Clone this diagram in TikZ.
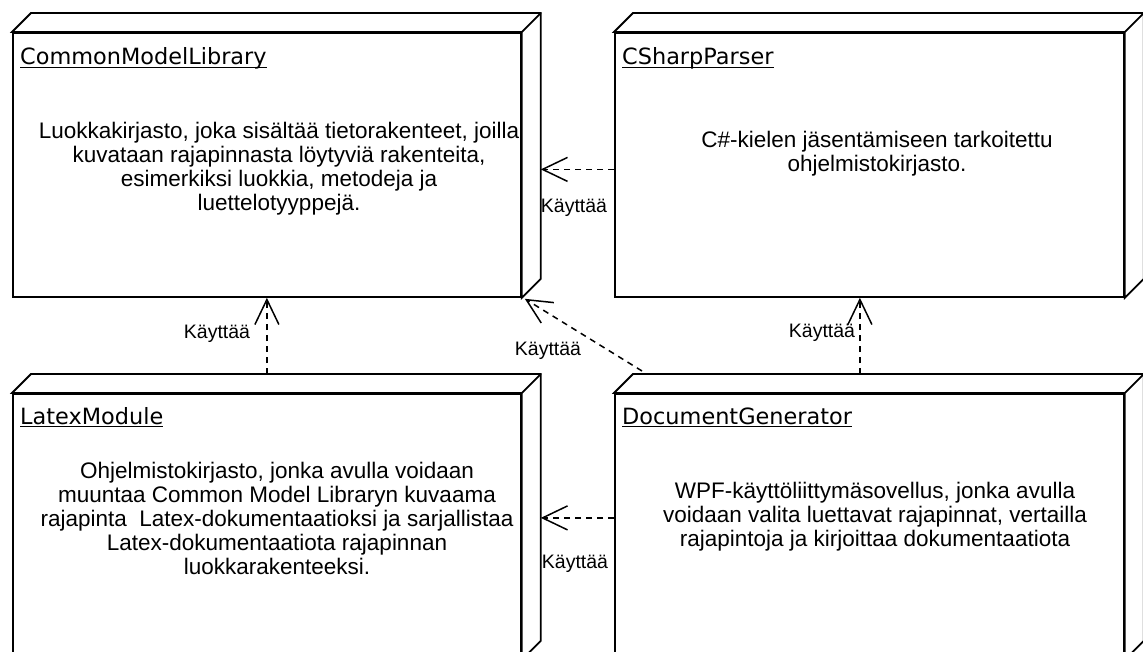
\documentclass[tikz,border=0pt]{standalone}
\usepackage{fontspec}
\setmainfont{Liberation Sans}
\newfontfamily\titlefont{DejaVu Sans}
\usetikzlibrary{arrows.meta,calc}

\tikzset{
  face/.style={draw, line width=1.8pt, fill=white, line join=miter},
  frontface/.style={face, rectangle, inner sep=0pt, anchor=north west},
  nodetitle/.style={font=\titlefont\fontsize{22.4}{26}\selectfont, inner sep=0pt, anchor=base west},
  bodytext/.style={font=\fontsize{22.5}{24}\selectfont, align=center, inner sep=0pt},
  uses/.style={draw, line width=1.5pt, dash pattern=on 6pt off 5pt,
    -{Straight Barb[length=25pt,width=24pt,line width=1.5pt]}},
  lbl/.style={font=\fontsize{19.5}{22}\selectfont, inner sep=0pt},
}

% UML deployment node: name, x, y (front top-left), width, height
\newcommand\depnode[5]{%
  \node[frontface, minimum width=#4pt, minimum height=#5pt] (#1) at (#2,#3) {};
  \coordinate (#1-br) at ($(#1.north east)+(19,-19)$);
  \draw[face] (#1.north west) -- ++(19,-19) -- (#1-br)
    -- ($(#1.south east)+(19,-19)$) -- (#1.south east) -- (#1.north east) -- cycle;
  \draw[face] (#1.north east) -- (#1-br);
}
% underlined node title: name, position, text
\newcommand\deptitle[3]{%
  \node[nodetitle] (#1) at (#2) {#3};
  \draw[line width=1.4pt] ([yshift=-2.5pt]#1.base west) -- ([yshift=-2.5pt]#1.base east);
}

\begin{document}
\begin{tikzpicture}[x=1pt,y=-1pt]
\useasboundingbox (0,0) rectangle (1143,652);
\clip (0,0) rectangle (1143,652);
\fill[white] (0,0) rectangle (1143,652);

% nodes
\depnode{cml}{12}{32}{508}{264}
\depnode{csp}{614}{32}{509}{264}
\depnode{ltx}{12}{393}{508}{265}
\depnode{dg}{614}{393}{509}{265}

\deptitle{cml-t}{20,65}{CommonModelLibrary}
\deptitle{csp-t}{622,65}{CSharpParser}
\deptitle{ltx-t}{20,424}{LatexModule}
\deptitle{dg-t}{622,424}{DocumentGenerator}

\node[bodytext] (cml-d) at (279,169) {Luokkakirjasto, joka sisältää tietorakenteet, joilla\\
  kuvataan rajapinnasta löytyviä rakenteita,\\
  esimerkiksi luokkia, metodeja ja\\
  luettelotyyppejä.};
\node[bodytext] (csp-d) at (877,154) {C\#-kielen jäsentämiseen tarkoitettu\\
  ohjelmistokirjasto.};
\node[bodytext] (ltx-d) at (277,518) {Ohjelmistokirjasto, jonka avulla voidaan\\
  muuntaa Common Model Libraryn kuvaama\\
  rajapinta\ \ Latex-dokumentaatioksi ja sarjallistaa\\
  Latex-dokumentaatiota rajapinnan\\
  luokkarakenteeksi.};
\node[bodytext] (dg-d) at (875,517) {WPF-käyttöliittymäsovellus, jonka avulla\\
  voidaan valita luettavat rajapinnat, vertailla\\
  rajapintoja ja kirjoittaa dokumentaatiota};

% dependencies
\coordinate (dg-src) at ($(dg.north west)+(28,-22)$);
\draw[uses] ([yshift=-4.5pt]csp.west) -- ([yshift=-4.5pt]csp.west -| cml-br);
\draw[uses] (cml.south |- ltx-br) -- (cml.south);
\draw[uses] (dg-src) -- ($(cml.south east)+(3,1)$);
\draw[uses] ([xshift=-9.5pt]csp.south |- dg-br) -- ([xshift=-9.5pt]csp.south);
\draw[uses] ([yshift=8.5pt]dg.west) -- ([yshift=8.5pt]dg.west -| ltx-br);

\node[lbl] (l1) at (574,208) {Käyttää};
\node[lbl] (l2) at (217,334) {Käyttää};
\node[lbl] (l3) at (548,351) {Käyttää};
\node[lbl] (l4) at (822,333) {Käyttää};
\node[lbl] (l5) at (575,564) {Käyttää};
\end{tikzpicture}
\end{document}
